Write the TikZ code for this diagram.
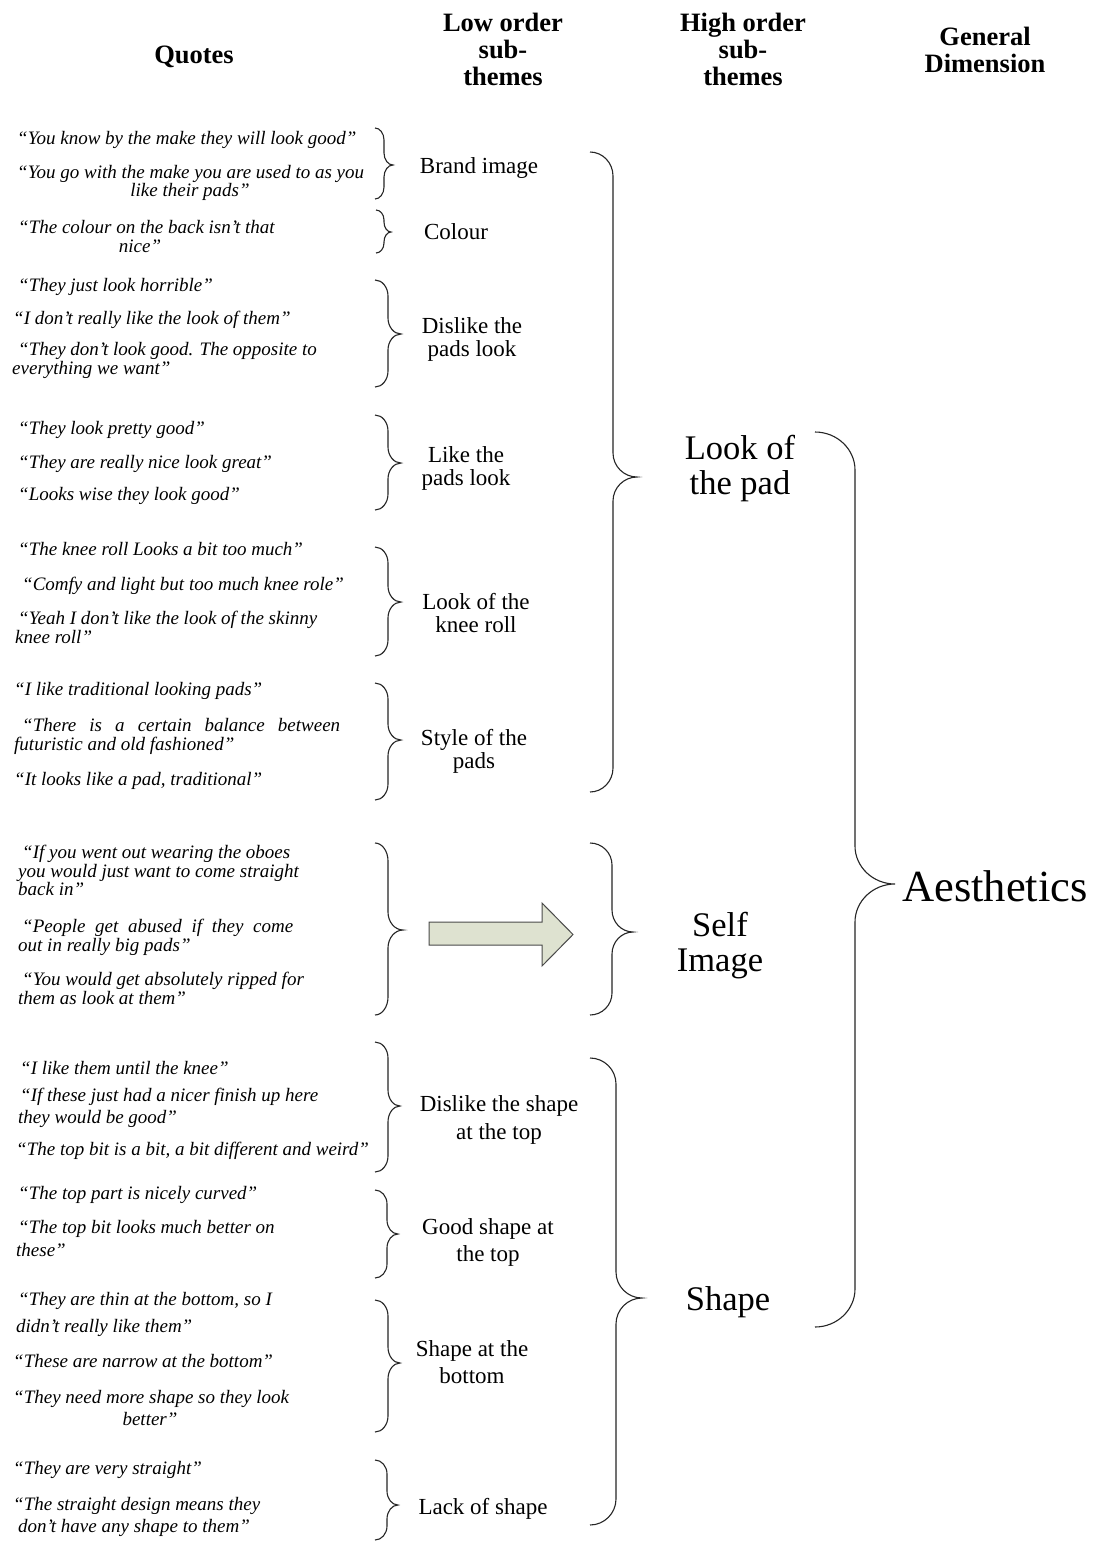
\documentclass[tikz,border=0pt]{standalone}
\usepackage{fontspec}
\setmainfont{Liberation Serif}
\newcommand{\qtfont}{\itshape\fontsize{19}{20}\selectfont}
\newcommand{\lowfont}{\fontsize{23}{26}\selectfont}
\newcommand{\highfont}{\fontsize{34.5}{36}\selectfont}
\newcommand{\dimfont}{\fontsize{44.5}{48}\selectfont}
\newcommand{\headfont}{\bfseries\fontsize{26.5}{27}\selectfont}
\definecolor{arrowfill}{HTML}{DEE2D0}
\definecolor{arrowedge}{HTML}{4A4A4A}
% curly brace opening to the left: ends at x #1, spine at x #2, tip at x #3,
% top #4, tip height #5, bottom #6, corner size #7
\newcommand{\curlybrace}[7]{%
  \draw[brace line] (#1,#4)
    .. controls ({#1+0.55*(#2-#1)},#4) and (#2,{#4+0.45*#7}) .. (#2,{#4+#7})
    -- (#2,{#5-#7})
    .. controls (#2,{#5-0.45*#7}) and ({#3-0.55*(#3-#2)},#5) .. (#3,#5)
    .. controls ({#3-0.55*(#3-#2)},#5) and (#2,{#5+0.45*#7}) .. (#2,{#5+#7})
    -- (#2,{#6-#7})
    .. controls (#2,{#6-0.45*#7}) and ({#1+0.55*(#2-#1)},#6) .. (#1,#6);}
\begin{document}
\begin{tikzpicture}[x=1pt,y=-1pt,
  brace line/.style={draw=black!85, line width=1.1pt},
  qt/.style={anchor=base west, inner sep=0pt, font=\qtfont},
  qtc/.style={anchor=base, inner sep=0pt, font=\qtfont},
  low/.style={anchor=base, inner sep=0pt, font=\lowfont},
  high/.style={anchor=base, inner sep=0pt, font=\highfont},
  dimension/.style={anchor=base, inner sep=0pt, font=\dimfont},
  head/.style={anchor=base, inner sep=0pt, font=\headfont},
  arrowbox/.style={draw=arrowedge, fill=arrowfill, line width=1pt, line join=miter}]
\fill[white] (0,0) rectangle (1100,1542);
\useasboundingbox (0,0) rectangle (1100,1542);

% column headings
\node[head] (hq) at (194,63) {Quotes};
\node[head] (hl1) at (503,31) {Low order};
\node[head] (hl2) at (503,58) {sub-};
\node[head] (hl3) at (503,85) {themes};
\node[head] (hh1) at (743,31) {High order};
\node[head] (hh2) at (743,58) {sub-};
\node[head] (hh3) at (743,85) {themes};
\node[head] (hg1) at (985,45) {General};
\node[head] (hg2) at (985,72) {Dimension};

% quotes
\node[qt] (q1) at (17,144) {“You know by the make they will look good”};
\node[qt] (q2a) at (17,178) {“You go with the make you are used to as you};
\node[qtc] (q2b) at (190,196) {like their pads”};
\node[qt] (q3a) at (18,233) {“The colour on the back isn’t that};
\node[qtc] (q3b) at (140,252) {nice”};
\node[qt] (q4) at (18,291) {“They just look horrible”};
\node[qt] (q5) at (13,324) {“I don’t really like the look of them”};
\node[qt] (q6a) at (18,355) {“They don’t look good. The opposite to};
\node[qt] (q6b) at (12,374) {everything we want”};
\node[qt] (q7) at (18,434) {“They look pretty good”};
\node[qt] (q8) at (18,468) {“They are really nice look great”};
\node[qt] (q9) at (18,500) {“Looks wise they look good”};
\node[qt] (q10) at (18,555) {“The knee roll Looks a bit too much”};
\node[qt] (q11) at (22,590) {“Comfy and light but too much knee role”};
\node[qt] (q12a) at (18,624) {“Yeah I don’t like the look of the skinny};
\node[qt] (q12b) at (15,643) {knee roll”};
\node[qt] (q13) at (14,695) {“I like traditional looking pads”};
\node[qt] (q14a) at (22,731) {\makebox[318pt][s]{“There is a certain balance between}};
\node[qt] (q14b) at (14,750) {futuristic and old fashioned”};
\node[qt] (q15) at (14,785) {“It looks like a pad, traditional”};
\node[qt] (q16a) at (22,858) {“If you went out wearing the oboes};
\node[qt] (q16b) at (18,877) {you would just want to come straight};
\node[qt] (q16c) at (18,895) {back in”};
\node[qt] (q17a) at (22,932) {\makebox[271pt][s]{“People get abused if they come}};
\node[qt] (q17b) at (18,951) {out in really big pads”};
\node[qt] (q18a) at (22,985) {“You would get absolutely ripped for};
\node[qt] (q18b) at (18,1004) {them as look at them”};
\node[qt] (q19) at (20,1074) {“I like them until the knee”};
\node[qt] (q20a) at (20,1101) {“If these just had a nicer finish up here};
\node[qt] (q20b) at (18,1123) {they would be good”};
\node[qt] (q21) at (16,1155) {“The top bit is a bit, a bit different and weird”};
\node[qt] (q22) at (18,1199) {“The top part is nicely curved”};
\node[qt] (q23a) at (18,1233) {“The top bit looks much better on};
\node[qt] (q23b) at (16,1256) {these”};
\node[qt] (q24a) at (18,1305) {“They are thin at the bottom, so I};
\node[qt] (q24b) at (16,1332) {didn’t really like them”};
\node[qt] (q25) at (13,1367) {“These are narrow at the bottom”};
\node[qt] (q26a) at (13,1403) {“They need more shape so they look};
\node[qtc] (q26b) at (150,1425) {better”};
\node[qt] (q27) at (13,1474) {“They are very straight”};
\node[qt] (q28a) at (13,1510) {“The straight design means they};
\node[qt] (q28b) at (18,1532) {don’t have any shape to them”};

% low order sub-themes
\node[low] (brand) at (479,173) {Brand image};
\node[low] (colour) at (456,239) {Colour};
\node[low] (dis1) at (472,333) {Dislike the};
\node[low] (dis2) at (472,356) {pads look};
\node[low] (like1) at (466,462) {Like the};
\node[low] (like2) at (466,485) {pads look};
\node[low] (knee1) at (476,609) {Look of the};
\node[low] (knee2) at (476,632) {knee roll};
\node[low] (style1) at (474,745) {Style of the};
\node[low] (style2) at (474,768) {pads};
\node[low] (dtop1) at (499,1111) {Dislike the shape};
\node[low] (dtop2) at (499,1139) {at the top};
\node[low] (gtop1) at (488,1234) {Good shape at};
\node[low] (gtop2) at (488,1261) {the top};
\node[low] (bot1) at (472,1356) {Shape at the};
\node[low] (bot2) at (472,1383) {bottom};
\node[low] (lack) at (483,1514) {Lack of shape};

% high order sub-themes
\node[high] (look1) at (740,459) {Look of};
\node[high] (look2) at (740,494) {the pad};
\node[high] (self1) at (720,936) {Self};
\node[high] (self2) at (720,971) {Image};
\node[high] (shape) at (728,1310) {Shape};

% general dimension
\node[dimension] (aes) at (995,901) {Aesthetics};

% braces grouping quotes into low order sub-themes
\curlybrace{375}{384}{393}{128}{165}{199}{12}
\curlybrace{376}{384}{391}{210}{232}{253}{10}
\curlybrace{375}{388}{401}{280}{334}{387}{16}
\curlybrace{375}{388}{401}{415}{463}{510}{16}
\curlybrace{375}{388}{401}{547}{602}{656}{16}
\curlybrace{375}{388}{401}{683}{740}{800}{16}
\curlybrace{375}{388}{403}{843}{930}{1015}{18}
\curlybrace{375}{388}{400}{1042}{1106}{1172}{16}
\curlybrace{375}{387}{398}{1190}{1234}{1278}{14}
\curlybrace{375}{388}{400}{1300}{1363}{1432}{16}
\curlybrace{375}{387}{398}{1460}{1505}{1540}{14}

% braces grouping low order into high order sub-themes
\curlybrace{590}{613}{637}{152}{477}{792}{24}
\curlybrace{590}{612}{633}{843}{932}{1015}{22}
\curlybrace{590}{616}{642}{1058}{1298}{1525}{26}

% brace grouping high order themes into the dimension
\curlybrace{815}{855}{895}{432}{884}{1327}{38}

% block arrow from the self image quotes
\draw[arrowbox] (429,922) -- (542,922) -- (542,903) -- (573,934.5)
  -- (542,966) -- (542,945) -- (429,945) -- cycle;
\end{tikzpicture}
\end{document}
